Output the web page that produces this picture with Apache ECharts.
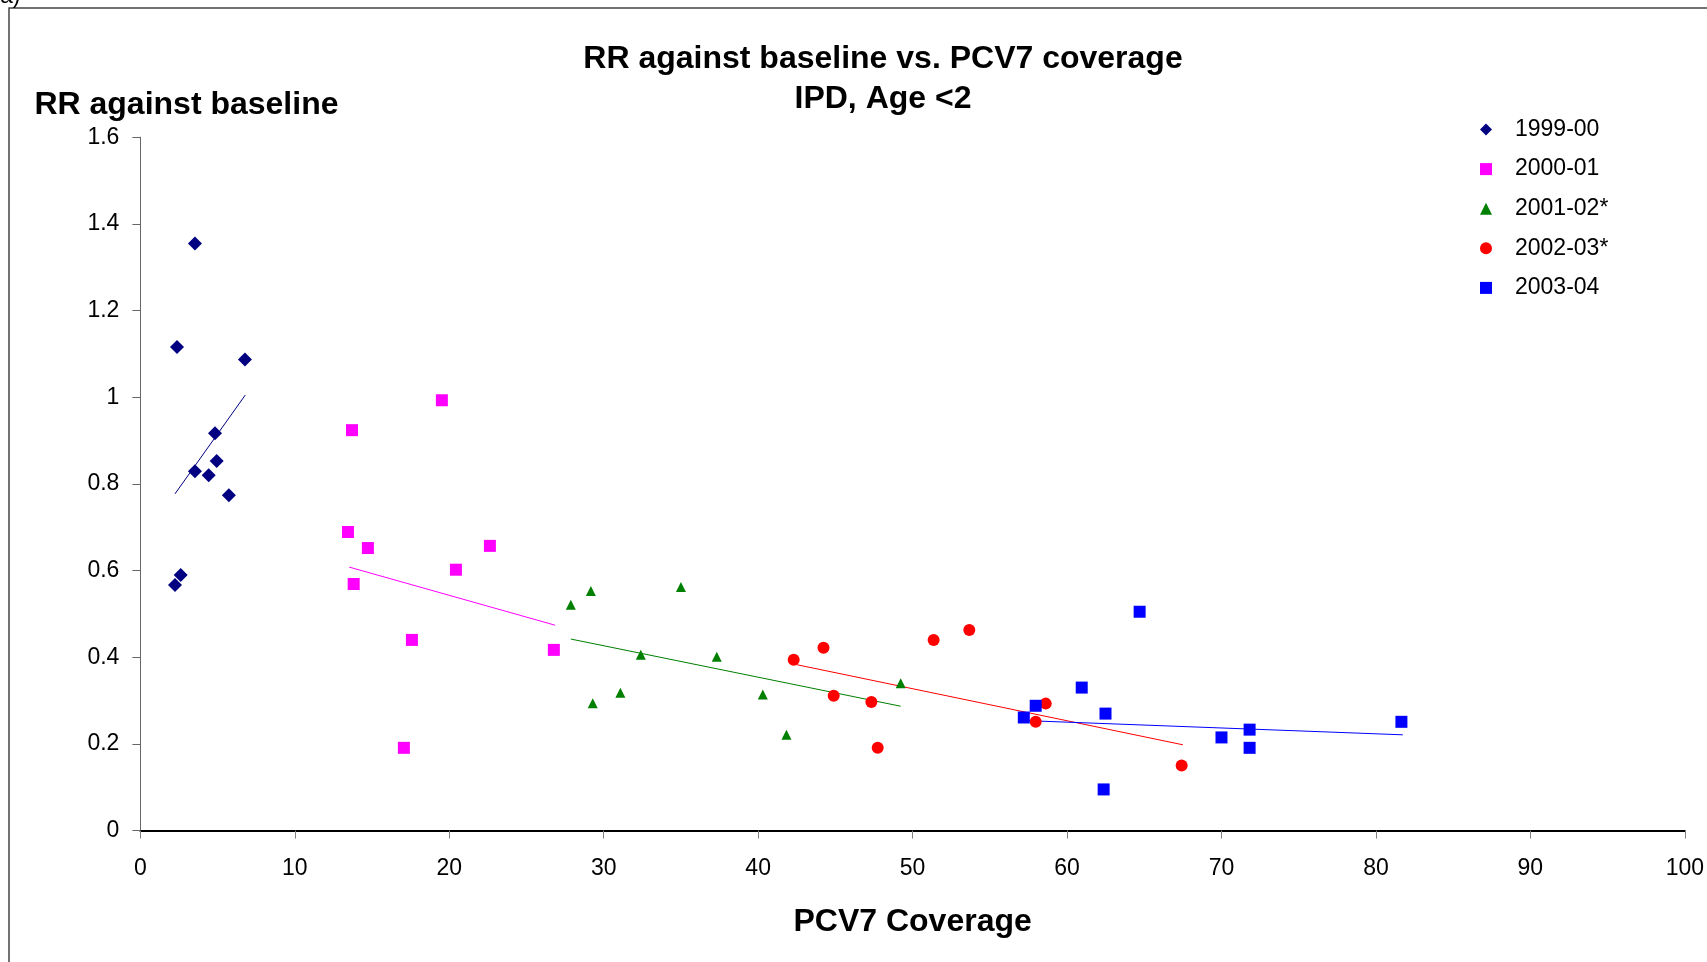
<!DOCTYPE html>
<html>
<head>
<meta charset="utf-8">
<script src="https://cdn.jsdelivr.net/npm/echarts@6/dist/echarts.min.js"></script>
<style>
html,body{margin:0;padding:0;background:#fff;}
#chart{width:1707px;height:962px;}
</style>
</head>
<body>
<div id="chart"></div>
<script>
// ---- data ----
const seriesNames = ['1999-00', '2000-01', '2001-02*', '2002-03*', '2003-04'];
const xTicks = [0, 10, 20, 30, 40, 50, 60, 70, 80, 90, 100];
const yTicks = [0, 0.2, 0.4, 0.6, 0.8, 1, 1.2, 1.4, 1.6];

const x1999 = [3.53, 2.37, 6.77, 4.83, 4.94, 3.53, 4.42, 5.73, 2.61, 2.24];
const y1999 = [1.355, 1.116, 1.087, 0.917, 0.853, 0.829, 0.820, 0.774, 0.590, 0.567];

const x2000 = [19.52, 13.70, 13.44, 14.73, 22.63, 20.43, 13.81, 17.58, 26.77, 17.06];
const y2000 = [0.993, 0.924, 0.689, 0.652, 0.657, 0.602, 0.569, 0.440, 0.417, 0.191];

const x2001 = [27.87, 29.17, 35.0, 32.4, 37.32, 31.08, 29.29, 40.3, 41.83, 49.23];
const y2001 = [0.521, 0.553, 0.562, 0.406, 0.401, 0.318, 0.294, 0.314, 0.221, 0.340];

const x2002 = [42.3, 44.23, 44.89, 47.33, 47.74, 51.36, 53.67, 58.62, 57.97, 67.42];
const y2002 = [0.394, 0.422, 0.311, 0.297, 0.191, 0.440, 0.463, 0.293, 0.251, 0.150];

const x2003 = [64.7, 60.95, 57.97, 57.2, 62.49, 70.0, 71.82, 71.82, 62.37, 81.65];
const y2003 = [0.505, 0.330, 0.288, 0.261, 0.270, 0.215, 0.233, 0.191, 0.095, 0.251];

// trend lines (start / end)
const trendX1999 = [2.24, 6.79];   const trendY1999 = [0.777, 1.005];
const trendX2000 = [13.52, 26.85]; const trendY2000 = [0.608, 0.474];
const trendX2001 = [27.87, 49.23]; const trendY2001 = [0.442, 0.287];
const trendX2002 = [42.48, 67.5];  const trendY2002 = [0.383, 0.198];
const trendX2003 = [57.2, 81.74];  const trendY2003 = [0.254, 0.221];

// ---- build ----
const zip = (xs, ys) => xs.map((x, i) => [x, ys[i]]);
const colors = ['#000080', '#FF00FF', '#008000', '#FF0000', '#0000FF'];
const symbols = ['diamond', 'rect', 'triangle', 'circle', 'rect'];
const sizes = [14, 12, 10, 12, 12];
const pts = [zip(x1999, y1999), zip(x2000, y2000), zip(x2001, y2001), zip(x2002, y2002), zip(x2003, y2003)];
const trends = [zip(trendX1999, trendY1999), zip(trendX2000, trendY2000), zip(trendX2001, trendY2001), zip(trendX2002, trendY2002), zip(trendX2003, trendY2003)];

const FONT = "'Liberation Sans', Arial, sans-serif";
const series = [];
trends.forEach((t, i) => {
  series.push({
    type: 'line', name: seriesNames[i] + ' trend', data: t, symbol: 'none',
    lineStyle: { color: colors[i], width: 1, opacity: 1 }, silent: true, z: 2
  });
});
pts.forEach((p, i) => {
  series.push({
    type: 'scatter', name: seriesNames[i], data: p, symbol: symbols[i], symbolSize: sizes[i],
    itemStyle: { color: colors[i], opacity: 1 }, z: 3
  });
});

const chart = echarts.init(document.getElementById('chart'));
chart.setOption({
  animation: false,
  backgroundColor: '#fff',
  title: {
    text: 'RR against baseline vs. PCV7 coverage\nIPD, Age <2',
    left: 878, top: 34, textAlign: 'center',
    textStyle: { fontFamily: FONT, fontSize: 32, fontWeight: 'bold', color: '#000', lineHeight: 40 }
  },
  legend: {
    data: seriesNames,
    orient: 'vertical',
    left: 1475, top: 113,
    itemWidth: 12, itemHeight: 12, itemGap: 16.6,
    symbolKeepAspect: true,
    textStyle: { fontFamily: FONT, fontSize: 23, color: '#000', lineHeight: 23, padding: [0, 0, 0, 18] }
  },
  grid: { left: 140.4, right: 21.8, top: 137.2, bottom: 131.4, containLabel: false },
  xAxis: {
    type: 'value', min: xTicks[0], max: xTicks[xTicks.length - 1], interval: xTicks[1] - xTicks[0],
    name: 'PCV7 Coverage', nameLocation: 'middle', nameGap: 76,
    nameTextStyle: { fontFamily: FONT, fontSize: 32, fontWeight: 'bold', color: '#000' },
    axisLine: { lineStyle: { color: '#000', width: 2 } },
    axisTick: { show: true, inside: false, length: 8, lineStyle: { color: '#808080', width: 1 } },
    axisLabel: { fontFamily: FONT, fontSize: 23, color: '#000', margin: 27 },
    splitLine: { show: false }
  },
  yAxis: {
    type: 'value', min: yTicks[0], max: yTicks[yTicks.length - 1], interval: yTicks[1] - yTicks[0],
    name: 'RR against baseline', nameLocation: 'end', nameGap: 32,
    nameTextStyle: { fontFamily: FONT, fontSize: 32, fontWeight: 'bold', color: '#000', align: 'left', verticalAlign: 'middle', padding: [0, 0, 0, -106] },
    axisLine: { show: true, lineStyle: { color: '#666', width: 1 } },
    axisTick: { show: true, inside: false, length: 8, lineStyle: { color: '#666', width: 1 } },
    axisLabel: { fontFamily: FONT, fontSize: 23, color: '#000', margin: 21 },
    splitLine: { show: false }
  },
  graphic: [
    { type: 'rect', shape: { x: 9, y: 8, width: 2000, height: 2000 }, style: { fill: 'none', stroke: '#444', lineWidth: 1.5 }, silent: true, z: 0 },
    { type: 'text', left: 0, top: -15, style: { text: 'a)', fontFamily: FONT, fontSize: 23, fill: '#000' }, silent: true }
  ],
  series: series
});
</script>
</body>
</html>
